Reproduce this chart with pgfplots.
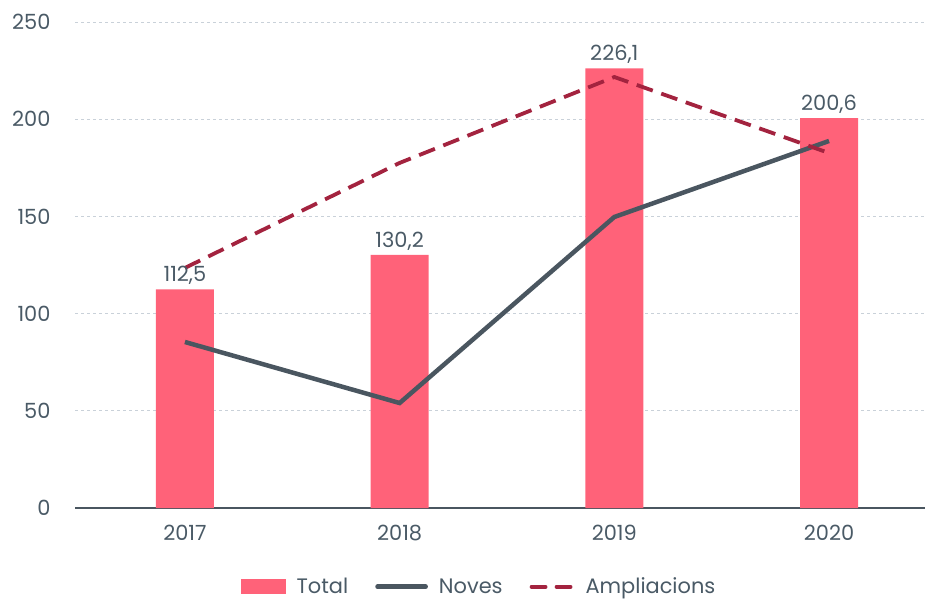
\documentclass[border=0pt]{standalone}
\usepackage{fontspec}
\setmainfont{Poppins}
\usepackage{pgfplots}
\pgfplotsset{compat=1.18}
\definecolor{barpink}{HTML}{FF6279}
\definecolor{slate}{HTML}{4A5660}
\definecolor{wine}{HTML}{A3233F}
\definecolor{gridc}{HTML}{C9D1D9}
\definecolor{txt}{HTML}{4A5A66}
\begin{document}
\begin{tikzpicture}
\begin{axis}[
  scale only axis,
  width=850bp, height=486bp,
  xmin=-0.512, xmax=3.447,
  ymin=0, ymax=250,
  xtick={0,1,2,3},
  xticklabels={2017,2018,2019,2020},
  ytick={0,50,100,150,200,250},
  axis x line*=bottom,
  axis y line*=left,
  y axis line style={draw=none},
  x axis line style={draw=slate, line width=1.5bp, -},
  ymajorgrids,
  grid style={gridc, dash pattern=on 3bp off 3bp, line width=0.9bp},
  major tick length=0pt,
  tick label style={font=\fontsize{21}{24}\selectfont, text=txt},
  /pgf/number format/assume math mode=true,
  xticklabel style={yshift=-14bp},
  yticklabel style={xshift=-21bp},
  clip=false,
  legend style={draw=none, at={(0.476,-0.162)}, anchor=center,
    font=\fontsize{21}{24}\selectfont, text=txt,
    legend columns=3,
    /tikz/every odd column/.append style={column sep=8bp},
    /tikz/every even column/.append style={column sep=24bp},
    nodes={inner xsep=3bp}},
  legend cell align=left,
]
\addplot[ybar, bar width=0.27, fill=barpink, draw=none,
  nodes near coords,
  nodes near coords style={font=\fontsize{21}{24}\selectfont, text=txt, yshift=1bp,
    /pgf/number format/.cd, fixed, fixed zerofill, precision=1, use comma, assume math mode=true},
  area legend,
  legend image code/.code={\fill[barpink] (-0.2cm,-0.24cm) rectangle (1.38cm,0.26cm);}]
  coordinates {(0,112.5) (1,130.2) (2,226.1) (3,200.6)};
\addlegendentry{Total}
\addplot[slate, line width=4.5bp, mark=none,
  legend image code/.code={\draw[slate, line width=4.5bp, line cap=round] (0cm,0cm) -- (1.7cm,0cm);}]
  coordinates {(0,85.4) (1,54.0) (2,149.7) (3,188.8)};
\addlegendentry{Noves}
\addplot[wine, line width=3.8bp, dash pattern=on 17bp off 9bp, mark=none,
  legend image code/.code={\draw[wine, line width=3.8bp, line cap=round, dash pattern=on 14bp off 11bp] (0.1cm,0cm) -- (1.55cm,0cm);}]
  coordinates {(0,123.5) (1,177.5) (2,221.7) (3,182.6)};
\addlegendentry{Ampliacions}
\end{axis}
\pgfresetboundingbox
\path (current axis.south west) ++(-75bp,-93bp) rectangle ++(925bp,601bp);
\end{tikzpicture}
\end{document}
